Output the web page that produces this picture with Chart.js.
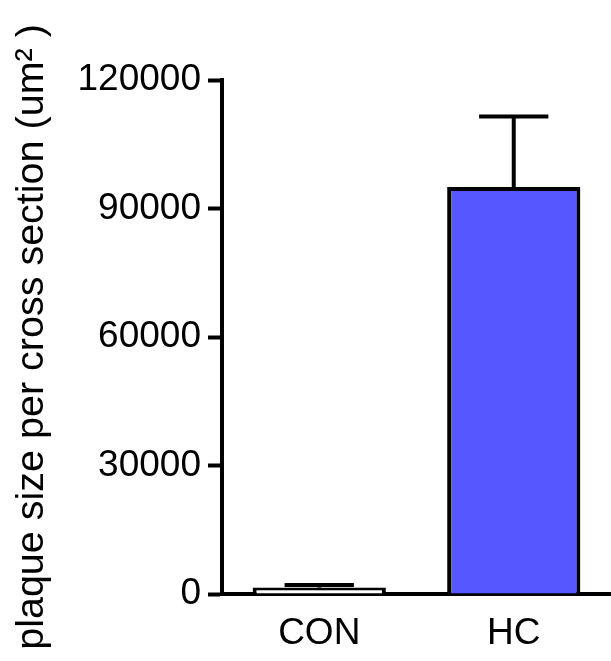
<!DOCTYPE html>
<html>
<head>
<meta charset="utf-8">
<script src="https://cdn.jsdelivr.net/npm/chart.js@4"></script>
<style>
html,body{margin:0;padding:0;background:#fff;}
#wrap{width:611px;height:661px;}
</style>
</head>
<body>
<div id="wrap"><canvas id="c" width="611" height="661"></canvas></div>
<script>
const categories = ["CON", "HC"];
const meanValues = [1500, 95000];
const sdValues = [600, 16500];
const yTicks = [0, 30000, 60000, 90000, 120000];
const barFills = ["#FFFFFF", "#5757FF"];
const yTitle = "plaque size per cross section (um\u00B2 )";

const errorBars = {
  id: 'errorBars',
  afterDatasetsDraw(chart) {
    const ctx = chart.ctx;
    const meta = chart.getDatasetMeta(0);
    const y = chart.scales.y;
    ctx.save();
    ctx.strokeStyle = '#000';
    ctx.lineWidth = 4;
    meta.data.forEach((bar, i) => {
      const x = bar.x;
      const yMean = y.getPixelForValue(meanValues[i]);
      const yTop = y.getPixelForValue(meanValues[i] + sdValues[i]);
      const half = bar.width * 0.26;
      ctx.beginPath();
      ctx.moveTo(x, yMean);
      ctx.lineTo(x, yTop);
      ctx.stroke();
      ctx.beginPath();
      ctx.moveTo(x - half, yTop);
      ctx.lineTo(x + half, yTop);
      ctx.stroke();
    });
    ctx.restore();
  }
};

new Chart(document.getElementById('c'), {
  type: 'bar',
  data: {
    labels: categories,
    datasets: [{
      data: meanValues,
      backgroundColor: barFills,
      borderColor: '#000',
      borderWidth: 4,
      borderSkipped: 'bottom',
      categoryPercentage: 1,
      barPercentage: 0.685
    }]
  },
  options: {
    responsive: false,
    animation: false,
    events: [],
    layout: { padding: { top: 80, right: 0, left: 0, bottom: 0 } },
    plugins: { legend: { display: false }, tooltip: { enabled: false } },
    scales: {
      x: {
        type: 'category',
        offset: true,
        grid: { display: false, drawTicks: false },
        border: { display: true, color: '#000', width: 4 },
        ticks: { color: '#000', font: { family: 'Liberation Sans, Arial', size: 37 }, padding: 18 },
        afterFit(s) { s.height = 67; }
      },
      y: {
        min: 0,
        max: 120000,
        afterBuildTicks(s) { s.ticks = yTicks.map(v => ({ value: v })); },
        grid: { display: true, drawOnChartArea: false, drawTicks: true, tickLength: 14, tickWidth: 4, tickColor: '#000', color: '#000' },
        border: { display: true, color: '#000', width: 4 },
        ticks: { color: '#000', font: { family: 'Liberation Sans, Arial', size: 37 }, padding: 7, callback: v => String(v) },
        title: { display: true, text: yTitle, color: '#000', font: { family: 'Liberation Sans, Arial', size: 39.5 }, padding: { top: 8, bottom: 0 } },
        afterFit(s) { s.width = 222; }
      }
    }
  },
  plugins: [errorBars]
});
</script>
</body>
</html>
